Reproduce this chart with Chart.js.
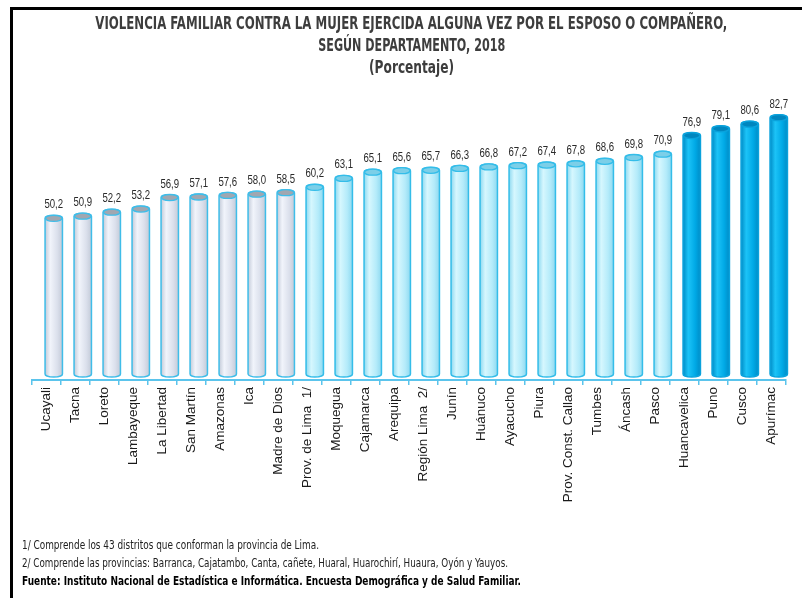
<!DOCTYPE html>
<html>
<head>
<meta charset="utf-8">
<script src="https://cdn.jsdelivr.net/npm/chart.js@4.4.1/dist/chart.umd.min.js"></script>
<style>
  body { margin: 0; background: #fff; width: 802px; height: 598px; overflow: hidden; position: relative;
         font-family: "Liberation Sans Narrow", "DejaVu Sans Condensed", "Liberation Sans", sans-serif; }
  #chart { position: absolute; left: 0; top: 0; }
  #frame { position: absolute; left: 10px; top: 7px; width: 800px; height: 600px;
           border-left: 3px solid #000; border-top: 3px solid #000; }
  .t { position: absolute; left: 10px; width: 803px; display: flex; justify-content: center; font-weight: bold;
       color: #3d3d3d; font-size: 18px; line-height: 18px; white-space: nowrap; }
  .t span { display: inline-block; flex: none; transform-origin: center; }
  .note { position: absolute; left: 22px; white-space: nowrap; font-size: 12px; line-height: 12px;
          color: #222; transform-origin: left center; }
  .note.b { font-weight: bold; color: #000; }
</style>
</head>
<body>
<canvas id="chart" width="802" height="598"></canvas>
<div id="frame"></div>
<div class="t" style="top:14px"><span data-w="632">VIOLENCIA FAMILIAR CONTRA LA MUJER EJERCIDA ALGUNA VEZ POR EL ESPOSO O COMPAÑERO,</span></div>
<div class="t" style="top:36px"><span data-w="187">SEGÚN DEPARTAMENTO, 2018</span></div>
<div class="t" style="top:58px"><span data-w="85">(Porcentaje)</span></div>
<div class="note" style="top:539px" data-w="297">1/ Comprende los 43 distritos que conforman la provincia de Lima.</div>
<div class="note" style="top:557px" data-w="486">2/ Comprende las provincias: Barranca, Cajatambo, Canta, cañete, Huaral, Huarochirí, Huaura, Oyón y Yauyos.</div>
<div class="note b" style="top:575px" data-w="499">Fuente: Instituto Nacional de Estadística e Informática. Encuesta Demográfica y de Salud Familiar.</div>
<script>
// departamentos, ordenados de menor a mayor
var categories = ['Ucayali', 'Tacna', 'Loreto', 'Lambayeque', 'La Libertad', 'San Martín', 'Amazonas', 'Ica',
  'Madre de Dios', 'Prov. de Lima  1/', 'Moquegua', 'Cajamarca', 'Arequipa', 'Región Lima  2/', 'Junín',
  'Huánuco', 'Ayacucho', 'Piura', 'Prov. Const. Callao', 'Tumbes', 'Áncash', 'Pasco', 'Huancavelica',
  'Puno', 'Cusco', 'Apurímac'];
var values = [50.2, 50.9, 52.2, 53.2, 56.9, 57.1, 57.6, 58.0, 58.5, 60.2, 63.1, 65.1, 65.6, 65.7, 66.3,
  66.8, 67.2, 67.4, 67.8, 68.6, 69.8, 70.9, 76.9, 79.1, 80.6, 82.7];
// 0 = gris, 1 = celeste, 2 = azul
var tiers = [0, 0, 0, 0, 0, 0, 0, 0, 0, 1, 1, 1, 1, 1, 1, 1, 1, 1, 1, 1, 1, 1, 2, 2, 2, 2];

var palettes = [
  { edge: '#c3cad8', mid: '#f1f4fb', shade: '#dbe0ec', border: '#3fbde9', cap: '#a0a7b1' },
  { edge: '#8ed9f0', mid: '#d6f7fe', shade: '#b4ebfa', border: '#34bde9', cap: '#7ccfe8' },
  { edge: '#008cc6', mid: '#1cc3f7', shade: '#00a9e6', border: '#0aa2dc', cap: '#0086bf' }
];

// fit text blocks to the widths measured on the original
document.querySelectorAll('[data-w]').forEach(function(el) {
  var w = el.getBoundingClientRect().width;
  el.style.transform = 'scaleX(' + (el.dataset.w / w) + ')';
});

var cylinders = {
  id: 'cylinders',
  afterDatasetsDraw: function(chart) {
    var ctx = chart.ctx;
    var meta = chart.getDatasetMeta(1);
    var bottom = chart.chartArea.bottom - 3;
    meta.data.forEach(function(bar, i) {
      var p = palettes[tiers[i]];
      var rx = bar.width / 2, ry = 3;
      var l = bar.x - rx, r = bar.x + rx, top = bar.y;
      var g = ctx.createLinearGradient(l, 0, r, 0);
      g.addColorStop(0, p.edge);
      g.addColorStop(0.3, p.mid);
      g.addColorStop(0.7, p.shade);
      g.addColorStop(1, p.edge);

      ctx.save();
      ctx.beginPath();
      ctx.moveTo(l, top);
      ctx.lineTo(l, bottom - ry);
      ctx.ellipse(bar.x, bottom - ry, rx, ry, 0, Math.PI, 0, true);
      ctx.lineTo(r, top);
      ctx.ellipse(bar.x, top, rx, ry, 0, 0, Math.PI, true);
      ctx.closePath();
      ctx.fillStyle = g;
      ctx.fill();
      ctx.lineWidth = 1.5;
      ctx.strokeStyle = p.border;
      ctx.stroke();

      ctx.beginPath();
      ctx.ellipse(bar.x, top, rx - 0.5, ry, 0, 0, Math.PI * 2);
      ctx.fillStyle = p.cap;
      ctx.fill();
      ctx.lineWidth = 1.3;
      ctx.stroke();

      // value label, narrow
      ctx.translate(bar.x, top - ry - 4);
      ctx.scale(0.74, 1);
      ctx.font = '13px "Liberation Sans", Arial, sans-serif';
      ctx.fillStyle = '#2a2a2a';
      ctx.textAlign = 'center';
      ctx.textBaseline = 'bottom';
      ctx.fillText(values[i].toFixed(1).replace('.', ','), 0, 0);
      ctx.restore();
    });
  }
};

var ctx = document.getElementById('chart');
var chart = new Chart(ctx, {
  type: 'bar',
  data: {
    labels: categories,
    datasets: [
      { data: categories.map(function() { return null; }) },   // empty slot, pushes bars right
      { data: values, backgroundColor: 'rgba(0,0,0,0)', borderWidth: 0 }
    ]
  },
  options: {
    responsive: false,
    animation: false,
    devicePixelRatio: 1,
    layout: { padding: { left: 32, right: 16, top: 64, bottom: 0 } },
    datasets: { bar: { categoryPercentage: 1, barPercentage: 1.2 } },
    plugins: { legend: { display: false }, tooltip: { enabled: false }, title: { display: false } },
    scales: {
      x: {
        grid: { display: true, drawOnChartArea: false, drawTicks: true, tickLength: 5,
                color: '#5bc4ec', lineWidth: 1.5, offset: true },
        border: { display: true, color: '#5bc4ec', width: 2 },
        ticks: { minRotation: 90, maxRotation: 90, autoSkip: false, padding: 2, color: '#1a1a1a',
                 font: { family: '"Liberation Sans", Arial, sans-serif', size: 13.5 } },
        afterFit: function(scale) { scale.height = 218; }
      },
      y: { display: false, min: -1.94, max: 100 }
    }
  },
  plugins: [cylinders]
});
</script>
</body>
</html>
